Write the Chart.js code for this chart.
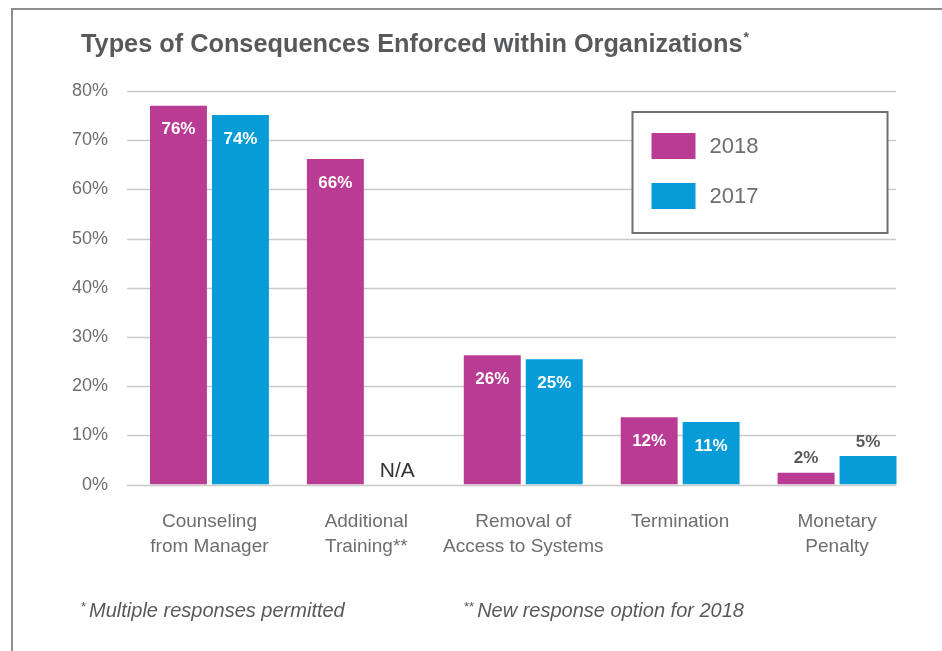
<!DOCTYPE html>
<html>
<head>
<meta charset="utf-8">
<title>Types of Consequences Enforced within Organizations</title>
<script src="https://cdn.jsdelivr.net/npm/chart.js@4.4.0/dist/chart.umd.min.js"></script>
<style>
  body { margin: 0; background: #fff; font-family: "Liberation Sans", Arial, sans-serif; }
  #wrap { position: relative; width: 942px; height: 651px; overflow: hidden; }
  #frame { position: absolute; left: 11px; top: 8px; width: 1000px; height: 700px;
           border-top: 2px solid #8e8e8e; border-left: 2px solid #8e8e8e; }
  canvas { position: absolute; left: 0; top: 0; }
  .title { position: absolute; left: 81px; top: 31px; font-size: 25.3px; line-height: 25px;
           font-weight: bold; color: #58595b; white-space: nowrap; }
  .title .ast { position: relative; top: -10px; font-size: 14px; margin-left: 1px; }
  .note { position: absolute; top: 600px; font-size: 20px; line-height: 20px;
          font-style: italic; color: #58595b; white-space: nowrap; }
  .note .ast { position: relative; top: -6px; font-size: 13px; font-style: normal; margin-right: 3px; }
</style>
</head>
<body>
<div id="wrap">
  <div id="frame"></div>
  <canvas id="chart_consequences" width="942" height="651"></canvas>
  <div class="title">Types of Consequences Enforced within Organizations<span class="ast">*</span></div>
  <div class="note" style="left:81px"><span class="ast">*</span>Multiple responses permitted</div>
  <div class="note" style="left:464px"><span class="ast">**</span>New response option for 2018</div>
</div>
<script>
const categories = [
  ["Counseling", "from Manager"],
  ["Additional", "Training**"],
  ["Removal of", "Access to Systems"],
  ["Termination"],
  ["Monetary", "Penalty"],
];
const values2018 = [77.0, 66.2, 26.3, 13.7, 2.4];
const values2017 = [75.1, 0, 25.5, 12.7, 5.8];
const labels2018 = ["76%", "66%", "26%", "12%", "2%"];
const labels2017 = ["74%", "N/A", "25%", "11%", "5%"];
const yMax = 80;
const yStep = 10;

const FONT = "'Liberation Sans', Arial, sans-serif";
Chart.defaults.font.family = FONT;

// horizontal grid lines, a bit shorter on the right than the category band
const gridLines = {
  id: "gridLines",
  beforeDatasetsDraw(chart) {
    const { ctx, chartArea, scales } = chart;
    ctx.save();
    ctx.strokeStyle = "#c9c9c9";
    ctx.lineWidth = 1.5;
    scales.y.ticks.forEach((t) => {
      const y = Math.round(scales.y.getPixelForValue(t.value)) + 0.5;
      ctx.beginPath();
      ctx.moveTo(chartArea.left - 4, y);
      ctx.lineTo(chartArea.right - 19.5, y);
      ctx.stroke();
    });
    ctx.restore();
  },
};

const barLabels = {
  id: "barLabels",
  afterDatasetsDraw(chart) {
    const { ctx } = chart;
    ctx.save();
    ctx.textAlign = "center";
    ctx.textBaseline = "middle";
    chart.data.datasets.forEach((ds, di) => {
      const meta = chart.getDatasetMeta(di);
      meta.data.forEach((bar, i) => {
        const text = ds.valueLabels[i];
        if (text === "N/A") {
          ctx.font = "21px " + FONT;
          ctx.fillStyle = "#333333";
          ctx.fillText(text, bar.x, bar.y - 13);
        } else if (ds.data[i] < 8) {
          ctx.font = "bold 17px " + FONT;
          ctx.fillStyle = "#58595b";
          ctx.fillText(text, bar.x, bar.y - 14);
        } else {
          ctx.font = "bold 17px " + FONT;
          ctx.fillStyle = "#ffffff";
          ctx.fillText(text, bar.x, bar.y + 24);
        }
      });
    });
    ctx.restore();
  },
};

// boxed legend in the upper right
const boxLegend = {
  id: "boxLegend",
  afterDatasetsDraw(chart) {
    const { ctx, chartArea } = chart;
    const x0 = chartArea.right - 283;
    const y0 = chartArea.top + 21;
    ctx.save();
    ctx.fillStyle = "#ffffff";
    ctx.fillRect(x0, y0, 255, 121);
    ctx.strokeStyle = "#707072";
    ctx.lineWidth = 2;
    ctx.strokeRect(x0, y0, 255, 121);
    ctx.font = "22px " + FONT;
    ctx.textBaseline = "middle";
    chart.data.datasets.forEach((ds, di) => {
      const y = y0 + 21 + di * 50;
      ctx.fillStyle = ds.backgroundColor;
      ctx.fillRect(x0 + 19, y, 44, 26);
      ctx.fillStyle = "#6d6e71";
      ctx.fillText(ds.label, x0 + 77, y + 14);
    });
    ctx.restore();
  },
};

new Chart(document.getElementById("chart_consequences"), {
  type: "bar",
  data: {
    labels: categories,
    datasets: [
      {
        label: "2018",
        data: values2018,
        valueLabels: labels2018,
        backgroundColor: "#b93b93",
        barPercentage: 0.919,
        categoryPercentage: 0.79,
      },
      {
        label: "2017",
        data: values2017,
        valueLabels: labels2017,
        backgroundColor: "#079bd8",
        barPercentage: 0.919,
        categoryPercentage: 0.79,
      },
    ],
  },
  options: {
    responsive: false,
    animation: false,
    layout: {
      padding: { left: 50, right: 26.5, top: 91, bottom: 66.4 },
    },
    scales: {
      y: {
        min: 0,
        max: yMax,
        afterFit: (s) => { s.width = 81; },
        grid: { display: false, drawTicks: false },
        border: { display: false },
        ticks: {
          stepSize: yStep,
          padding: 23,
          color: "#6d6e71",
          font: { size: 18 },
          callback: (v) => v + "%",
        },
      },
      x: {
        afterFit: (s) => { s.height = 100; },
        grid: { display: false, drawTicks: false },
        border: { display: false },
        ticks: {
          padding: 25,
          color: "#6d6e71",
          font: { size: 19, lineHeight: 1.3 },
          maxRotation: 0,
          autoSkip: false,
        },
      },
    },
    plugins: {
      legend: { display: false },
      tooltip: { enabled: false },
    },
  },
  plugins: [gridLines, barLabels, boxLegend],
});
</script>
</body>
</html>
